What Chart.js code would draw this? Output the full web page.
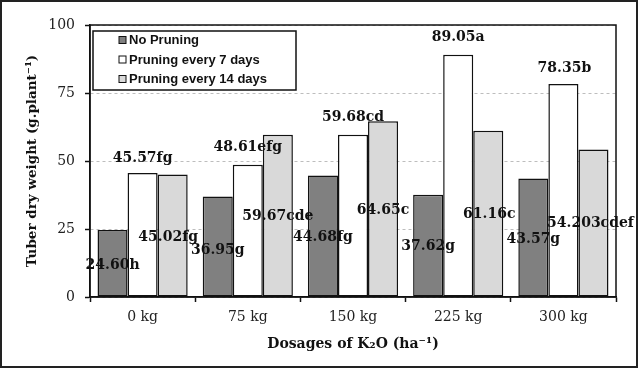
<!DOCTYPE html>
<html>
<head>
<meta charset="utf-8">
<script src="https://cdn.jsdelivr.net/npm/chart.js@4.4.0/dist/chart.umd.min.js"></script>
<style>
  body { margin: 0; background: #fff; }
  canvas { display: block; }
</style>
</head>
<body>
<canvas id="myChart" width="638" height="368"></canvas>
<script>
// dosages on the x axis
const categories = ['0 kg', '75 kg', '150 kg', '225 kg', '300 kg'];
// tuber dry weight per treatment
const noPruning = [24.60, 36.95, 44.68, 37.62, 43.57];
const prune7 = [45.57, 48.61, 59.68, 89.05, 78.35];
const prune14 = [45.02, 59.67, 64.65, 61.16, 54.203];
// value + letter labels as printed
const labelsNo = ['24.60h', '36.95g', '44.68fg', '37.62g', '43.57g'];
const labels7 = ['45.57fg', '48.61efg', '59.68cd', '89.05a', '78.35b'];
const labels14 = ['45.02fg', '59.67cde', '64.65c', '61.16c', '54.203cdef'];
const seriesNames = ['No Pruning', 'Pruning every 7 days', 'Pruning every 14 days'];

// where the labels sit, relative to the bar top (px)
const labelShift = [
  [[0, 35], [0, 53.5], [0, 61.5], [0, 52], [0, 60.5]],
  [[0, -15], [0, -17], [0, -17], [0, -17], [1, -16]],
  [[-4.5, 62.5], [0, 82], [0, 89], [1, 84], [-3, 74]]
];
const allLabels = [labelsNo, labels7, labels14];

const serif = "'DejaVu Serif', serif";

const decor = {
  id: 'decor',
  beforeDraw(chart) {
    const c = chart.ctx;
    c.save();
    c.fillStyle = '#fff';
    c.fillRect(0, 0, chart.width, chart.height);
    c.restore();
  },
  afterDatasetsDraw(chart) {
    const c = chart.ctx;
    const a = chart.chartArea;
    c.save();
    // plot frame
    c.strokeStyle = '#111';
    c.lineWidth = 1.5;
    c.strokeRect(a.left, a.top, a.right - a.left, a.bottom - a.top);

    // data labels
    c.font = "bold 14px " + serif;
    c.fillStyle = '#111';
    c.textAlign = 'center';
    c.textBaseline = 'middle';
    chart.data.datasets.forEach((ds, i) => {
      chart.getDatasetMeta(i).data.forEach((bar, j) => {
        const s = labelShift[i][j];
        c.fillText(allLabels[i][j], bar.x + s[0], bar.y + s[1]);
      });
    });

    // legend box
    c.fillStyle = '#fff';
    c.fillRect(93, 31, 203, 59);
    c.strokeStyle = '#111';
    c.lineWidth = 1.5;
    c.strokeRect(93, 31, 203, 59);
    c.font = "bold 13px 'Liberation Sans', Arial, sans-serif";
    c.textAlign = 'left';
    chart.data.datasets.forEach((ds, i) => {
      const y = 40 + i * 19.5;
      c.fillStyle = ds.backgroundColor;
      c.fillRect(119, y - 3.5, 7, 7);
      c.lineWidth = 1;
      c.strokeRect(119, y - 3.5, 7, 7);
      c.fillStyle = '#111';
      c.fillText(ds.label, 129, y + 0.5);
    });

    // outer frame
    c.strokeStyle = '#222';
    c.lineWidth = 2;
    c.strokeRect(1, 1, chart.width - 2, chart.height - 2);
    c.restore();
  }
};

new Chart('myChart', {
  type: 'bar',
  data: {
    labels: categories,
    datasets: [
      { label: seriesNames[0], data: noPruning, backgroundColor: '#808080' },
      { label: seriesNames[1], data: prune7, backgroundColor: '#ffffff' },
      { label: seriesNames[2], data: prune14, backgroundColor: '#d9d9d9' }
    ].map(d => Object.assign(d, {
      borderColor: '#111', borderWidth: 1.5, borderSkipped: false,
      categoryPercentage: 0.857, barPercentage: 1
    }))
  },
  options: {
    responsive: false,
    animation: false,
    devicePixelRatio: 1,
    layout: { padding: { top: 25, right: 22, left: 0, bottom: 0 } },
    plugins: { legend: { display: false }, tooltip: { enabled: false } },
    scales: {
      x: {
        afterFit: s => { s.height = 71; },
        grid: { offset: true, drawOnChartArea: false, tickLength: 5, tickColor: '#111', tickWidth: 1.5 },
        border: { color: '#111', width: 1.5 },
        ticks: { color: '#222', font: { family: serif, size: 14 }, padding: 7 },
        title: {
          display: true, text: 'Dosages of K₂O (ha⁻¹)', color: '#111',
          font: { family: serif, size: 14, weight: 'bold' }, padding: { top: 0, bottom: 15 }
        }
      },
      y: {
        min: 0, max: 100,
        afterFit: s => { s.width = 90; },
        grid: { color: '#bdbdbd', tickLength: 5, tickColor: '#111', tickWidth: 1.5, tickBorderDash: [] },
        border: { color: '#111', width: 1.5, dash: [3, 3] },
        ticks: { stepSize: 25, color: '#222', font: { family: serif, size: 14 }, padding: 10 },
        title: {
          display: true, text: 'Tuber dry weight (g.plant⁻¹)', color: '#111',
          font: { family: serif, size: 13.5, weight: 'bold' }, padding: { top: 24, bottom: 0 }
        }
      }
    }
  },
  plugins: [decor]
});
</script>
</body>
</html>
